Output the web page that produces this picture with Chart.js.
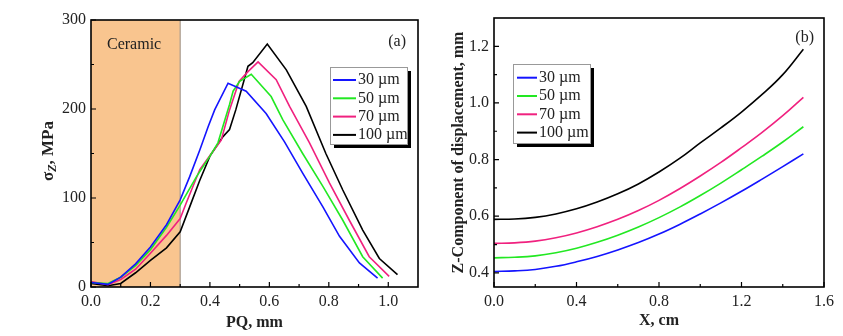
<!DOCTYPE html>
<html>
<head>
<meta charset="utf-8">
<script src="https://cdn.jsdelivr.net/npm/chart.js@4.4.0/dist/chart.umd.min.js"></script>
<style>
  body { margin: 0; background: #fff; }
  #a { position: absolute; left: 0; top: 0; }
  #b { position: absolute; left: 421px; top: 0; }
</style>
</head>
<body>
<canvas id="a" width="421" height="336"></canvas>
<canvas id="b" width="422" height="336"></canvas>
<script>
// series names
const labels = ['30 µm', '50 µm', '70 µm', '100 µm'];
const colors = ['#1414ff', '#22e822', '#f0217f', '#000000'];

// (a) sigma_z along PQ
const a30x = [0, 0.057, 0.1, 0.15, 0.2, 0.254, 0.3, 0.332, 0.366, 0.394, 0.416, 0.461, 0.522, 0.589, 0.651, 0.712, 0.78, 0.836, 0.903, 0.964];
const a30y = [5, 3, 11, 26, 45, 70, 98, 124, 154, 180, 199, 229, 220, 195, 163, 128, 90, 57, 27, 10];
const a50x = [0, 0.057, 0.1, 0.15, 0.2, 0.254, 0.3, 0.31, 0.355, 0.4, 0.427, 0.466, 0.478, 0.5, 0.539, 0.606, 0.645, 0.712, 0.78, 0.847, 0.914, 0.981];
const a50y = [5, 4, 11, 24, 42, 67, 92, 98, 124, 147, 162, 205, 220, 231, 239, 214, 188, 150, 113, 75, 34, 10];
const a70x = [0, 0.057, 0.1, 0.15, 0.2, 0.254, 0.3, 0.321, 0.366, 0.405, 0.438, 0.466, 0.498, 0.528, 0.562, 0.623, 0.668, 0.735, 0.802, 0.869, 0.936, 1.003];
const a70y = [6, 2.5, 8.5, 20, 38, 58, 77, 95, 132, 150, 165, 199, 231, 242, 253, 233, 203, 162, 117, 75, 34, 12];
const a100x = [0, 0.057, 0.1, 0.15, 0.2, 0.254, 0.3, 0.332, 0.366, 0.4, 0.444, 0.466, 0.487, 0.528, 0.544, 0.593, 0.657, 0.724, 0.79, 0.847, 0.914, 0.97, 1.031];
const a100y = [4, 1.5, 4, 16, 30, 44, 62, 90, 120, 147, 169, 177, 199, 248, 252, 273, 244, 203, 150, 109, 64, 32, 14];

// (b) Z displacement along X
const bX = [0, 0.1, 0.2, 0.3, 0.4, 0.5, 0.6, 0.7, 0.8, 0.9, 1.0, 1.1, 1.2, 1.3, 1.4, 1.5];
const b30 = [0.405, 0.407, 0.412, 0.423, 0.439, 0.458, 0.481, 0.507, 0.537, 0.571, 0.608, 0.647, 0.688, 0.731, 0.775, 0.820];
const b50 = [0.453, 0.455, 0.460, 0.471, 0.487, 0.508, 0.533, 0.562, 0.595, 0.632, 0.673, 0.717, 0.764, 0.812, 0.862, 0.916];
const b70 = [0.504, 0.506, 0.512, 0.524, 0.541, 0.563, 0.589, 0.620, 0.656, 0.697, 0.742, 0.790, 0.842, 0.896, 0.955, 1.020];
const b100 = [0.589, 0.590, 0.596, 0.608, 0.626, 0.650, 0.679, 0.714, 0.756, 0.804, 0.859, 0.912, 0.968, 1.030, 1.100, 1.190];

// ticks
const aXTicks = [0, 0.2, 0.4, 0.6, 0.8, 1.0];
const aXMinor = [0.1, 0.3, 0.5, 0.7, 0.9];
const aYTicks = [0, 100, 200, 300];
const aYMinor = [50, 150, 250];
const bXTicks = [0, 0.4, 0.8, 1.2, 1.6];
const bXMinor = [0.2, 0.6, 1.0, 1.4];
const bYTicks = [0.4, 0.6, 0.8, 1.0, 1.2];
const bYMinor = [0.5, 0.7, 0.9, 1.1];

const ceramic = [0, 0.3];
const serif = "'Liberation Serif', 'Times New Roman', serif";

function pts(xs, ys) {
  return xs.map((x, i) => ({ x: x, y: ys[i] }));
}

function decor(o) {
  return {
    id: 'decor',
    beforeDatasetsDraw(chart) {
      if (!o.shade) return;
      const ctx = chart.ctx, a = chart.chartArea, x = chart.scales.x;
      const x1 = x.getPixelForValue(o.shade[0]), x2 = x.getPixelForValue(o.shade[1]);
      ctx.save();
      ctx.fillStyle = '#f9c58f';
      ctx.fillRect(x1, a.top, x2 - x1, a.bottom - a.top);
      ctx.strokeStyle = '#a89c90';
      ctx.lineWidth = 1.2;
      ctx.beginPath();
      ctx.moveTo(x2, a.top); ctx.lineTo(x2, a.bottom);
      ctx.stroke();
      ctx.fillStyle = '#222';
      ctx.font = '16px ' + serif;
      ctx.textBaseline = 'middle';
      ctx.fillText('Ceramic', x1 + 16, a.top + 25);
      ctx.restore();
    },
    afterDraw(chart) {
      const ctx = chart.ctx, a = chart.chartArea, x = chart.scales.x, y = chart.scales.y;
      ctx.save();
      ctx.strokeStyle = '#000';
      ctx.lineWidth = 1.6;
      ctx.strokeRect(a.left, a.top, a.right - a.left, a.bottom - a.top);
      ctx.lineWidth = 1.2;
      ctx.beginPath();
      o.xt.forEach(v => { const p = x.getPixelForValue(v); ctx.moveTo(p, a.bottom); ctx.lineTo(p, a.bottom - 5); });
      o.xm.forEach(v => { const p = x.getPixelForValue(v); ctx.moveTo(p, a.bottom); ctx.lineTo(p, a.bottom - 3); });
      o.yt.forEach(v => { const p = y.getPixelForValue(v); ctx.moveTo(a.left, p); ctx.lineTo(a.left + 5, p); });
      o.ym.forEach(v => { const p = y.getPixelForValue(v); ctx.moveTo(a.left, p); ctx.lineTo(a.left + 3, p); });
      ctx.stroke();

      // panel tag
      ctx.fillStyle = '#222';
      ctx.font = '16px ' + serif;
      ctx.textAlign = 'right';
      ctx.textBaseline = 'middle';
      ctx.fillText(o.tag, o.tagX, o.tagY);

      // legend with shadow
      const L = o.leg;
      ctx.fillStyle = '#000';
      ctx.fillRect(L.x + 4, L.y + 4, L.w, L.h);
      ctx.fillStyle = '#fff';
      ctx.fillRect(L.x, L.y, L.w, L.h);
      ctx.strokeStyle = '#999';
      ctx.lineWidth = 1;
      ctx.strokeRect(L.x + 0.5, L.y + 0.5, L.w, L.h);
      ctx.textAlign = 'left';
      labels.forEach((t, i) => {
        const ry = L.y + L.r0 + i * L.dy;
        ctx.strokeStyle = colors[i];
        ctx.lineWidth = 2;
        ctx.beginPath();
        ctx.moveTo(L.x + L.l1, ry); ctx.lineTo(L.x + L.l2, ry);
        ctx.stroke();
        ctx.fillStyle = '#222';
        ctx.fillText(t, L.x + L.l2 + 2, ry);
      });

      // y title with subscript (panel a)
      if (o.sigma) {
        ctx.translate(48, 151);
        ctx.rotate(-Math.PI / 2);
        const f1 = 'bold 17px ' + serif, f2 = 'bold italic 12px ' + serif;
        ctx.font = f1; const w1 = ctx.measureText('σ').width;
        ctx.font = f2; const w2 = ctx.measureText('Z').width;
        ctx.font = f1; const w3 = ctx.measureText(', MPa').width;
        let sx = -(w1 + w2 + w3) / 2;
        ctx.fillStyle = '#222';
        ctx.textBaseline = 'alphabetic';
        ctx.font = f1; ctx.fillText('σ', sx, 5); sx += w1;
        ctx.font = f2; ctx.fillText('Z', sx, 8); sx += w2;
        ctx.font = f1; ctx.fillText(', MPa', sx, 5);
      }
      ctx.restore();
    }
  };
}

function makeChart(id, sets, o) {
  const ds = sets.map((s, i) => ({
    label: labels[i],
    data: s,
    borderColor: colors[i],
    borderWidth: 1.6,
    pointRadius: 0,
    tension: o.tension,
    fill: false
  }));
  return new Chart(document.getElementById(id), {
    type: 'line',
    data: { datasets: ds },
    options: {
      responsive: false,
      animation: false,
      layout: { padding: { top: o.top, right: o.right, left: 0, bottom: 0 } },
      plugins: { legend: { display: false }, tooltip: { enabled: false } },
      scales: {
        x: {
          type: 'linear',
          min: o.xmin, max: o.xmax,
          grid: { display: false, drawTicks: false },
          border: { display: false },
          afterBuildTicks: s => { s.ticks = o.xt.map(v => ({ value: v })); },
          afterFit: s => { s.height = 49; s.paddingLeft = 0; s.paddingRight = 0; },
          ticks: {
            padding: 5,
            color: '#222',
            font: { family: serif, size: 16 },
            maxRotation: 0,
            callback: v => v.toFixed(1)
          },
          title: {
            display: true,
            text: o.xTitle,
            color: '#222',
            font: { family: serif, size: 16, weight: 'bold' },
            padding: { bottom: o.xTitlePad, top: 0 }
          }
        },
        y: {
          min: o.ymin, max: o.ymax,
          grid: { display: false, drawTicks: false },
          border: { display: false },
          afterBuildTicks: s => { s.ticks = o.yt.map(v => ({ value: v })); },
          afterFit: s => { s.width = o.yw; s.paddingTop = 0; s.paddingBottom = 0; },
          ticks: {
            padding: 5,
            color: '#222',
            font: { family: serif, size: 16 },
            callback: o.yFmt
          },
          title: {
            display: !!o.yTitle,
            text: o.yTitle || '',
            color: '#222',
            font: { family: serif, size: 16, weight: 'bold' },
            padding: { top: o.yTitlePad || 0, bottom: 0 }
          }
        }
      }
    },
    plugins: [decor(o)]
  });
}

makeChart('a',
  [pts(a30x, a30y), pts(a50x, a50y), pts(a70x, a70y), pts(a100x, a100y)],
  {
    tension: 0, top: 20, right: 3, yw: 91,
    xmin: 0, xmax: 1.1, ymin: 0, ymax: 300,
    xt: aXTicks, xm: aXMinor, yt: aYTicks, ym: aYMinor,
    xTitle: 'PQ, mm', xTitlePad: 4,
    yFmt: v => String(v),
    shade: ceramic, sigma: true,
    tag: '(a)', tagX: 406, tagY: 42,
    leg: { x: 330, y: 67, w: 77, h: 77, r0: 13, dy: 18.3, l1: 3, l2: 26 }
  });

makeChart('b',
  [pts(bX, b30), pts(bX, b50), pts(bX, b70), pts(bX, b100)],
  {
    tension: 0.4, top: 18, right: 19, yw: 73,
    xmin: 0, xmax: 1.6, ymin: 0.35, ymax: 1.3,
    xt: bXTicks, xm: bXMinor, yt: bYTicks, ym: bYMinor,
    xTitle: 'X, cm', xTitlePad: 6,
    yTitle: 'Z-Component of displacement, mm', yTitlePad: 28,
    yFmt: v => v.toFixed(1),
    tag: '(b)', tagX: 393, tagY: 38,
    leg: { x: 92, y: 64, w: 77, h: 79, r0: 13.7, dy: 18.3, l1: 4, l2: 24 }
  });
</script>
</body>
</html>
